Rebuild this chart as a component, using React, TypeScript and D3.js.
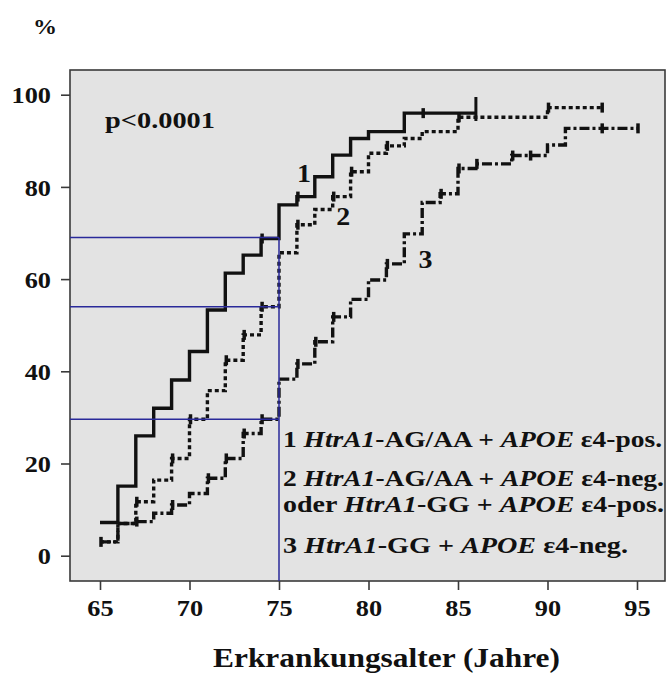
import { useEffect, useRef } from "react";
import * as d3 from "d3";

// Kaplan-Meier style steps: age where the curve jumps, and the new value (%)
const ages1 = [65, 66, 67, 68, 69, 70, 71, 72, 73, 74, 75, 76, 77, 78, 79, 80, 82];
const vals1 = [7.2, 15.1, 26.0, 32.0, 38.1, 44.3, 53.3, 61.3, 65.2, 68.8, 76.1, 77.9, 82.2, 86.9, 90.5, 92.0, 96.0];
const end1 = 86;
const censor1 = [74, 76, 83];

const ages2 = [65, 66, 67, 68, 69, 70, 71, 72, 73, 74, 75, 76, 77, 78, 79, 80, 81, 82, 83, 85, 90];
const vals2 = [3.0, 7.0, 11.7, 16.4, 21.1, 29.6, 35.8, 42.4, 47.9, 54.0, 65.7, 71.8, 75.1, 77.9, 83.3, 87.3, 88.9, 90.5, 92.0, 95.1, 97.2];
const end2 = 93;
const censor2 = [67, 69, 70, 72, 73, 74, 76, 78, 79, 81, 85, 90, 93];

const ages3 = [65, 66, 67, 68, 69, 70, 71, 72, 73, 74, 75, 76, 77, 78, 79, 80, 81, 82, 83, 84, 85, 86, 88, 90, 91];
const vals3 = [3.0, 7.0, 7.4, 9.2, 11.0, 13.5, 16.8, 21.1, 26.5, 29.6, 38.3, 41.6, 46.4, 51.8, 55.6, 59.8, 63.3, 69.8, 76.6, 78.5, 84.0, 85.0, 86.8, 89.1, 92.7];
const end3 = 95;
const censor3 = [65, 67, 69, 71, 72, 73, 74, 76, 77, 78, 81, 84, 85, 86, 88, 89, 93, 95];

// reference lines at age 75
const refAge = 75;
const refVals = [69.0, 54.0, 29.6];

const xTicks = [65, 70, 75, 80, 85, 90, 95];
const yTicks = [0, 20, 40, 60, 80, 100];

const curveLabels = ["1", "2", "3"];
const labelPos = [[76, 81.1], [78.2, 71.7], [82.8, 62.3]];

const legendLines = [
  [["1 ", false], ["HtrA1", true], ["-AG/AA + ", false], ["APOE", true], [" ε4-pos.", false]],
  [["2 ", false], ["HtrA1", true], ["-AG/AA + ", false], ["APOE", true], [" ε4-neg.", false]],
  [["oder ", false], ["HtrA1", true], ["-GG + ", false], ["APOE", true], [" ε4-pos.", false]],
  [["3 ", false], ["HtrA1", true], ["-GG + ", false], ["APOE", true], [" ε4-neg.", false]],
];

const FONT = "'Liberation Serif', 'Times New Roman', serif";
const SX = 1.12;

function valueAt(ages, vals, a) {
  let v = vals[0];
  for (let i = 0; i < ages.length; i++) if (ages[i] <= a) v = vals[i];
  return v;
}

function App() {
  const ref = useRef(null);

  useEffect(() => {
    const svg = d3.select(ref.current);
    svg.selectAll("*").remove();

    const plot = { left: 70, top: 70, right: 665, bottom: 581 };
    const x = d3.scaleLinear().domain([65, 95]).range([100, 637]);
    const y = d3.scaleLinear().domain([0, 100]).range([555.7, 94.7]);

    svg.append("rect")
      .attr("x", plot.left).attr("y", plot.top)
      .attr("width", plot.right - plot.left).attr("height", plot.bottom - plot.top)
      .attr("fill", "#e3e3e3").attr("stroke", "#3a3a3a").attr("stroke-width", 1.6);

    // axes
    const yAxis = svg.append("g")
      .attr("transform", `translate(${plot.left},0)`)
      .call(d3.axisLeft(y).tickValues(yTicks).tickSize(9).tickSizeOuter(0).tickPadding(8));
    const xAxis = svg.append("g")
      .attr("transform", `translate(0,${plot.bottom})`)
      .call(d3.axisBottom(x).tickValues(xTicks).tickSize(9).tickSizeOuter(0).tickPadding(9));
    [yAxis, xAxis].forEach((g) => {
      g.select(".domain").remove();
      g.selectAll("line").attr("stroke", "#3a3a3a").attr("stroke-width", 1.6);
      g.selectAll("text")
        .attr("font-family", FONT).attr("font-weight", "bold")
        .attr("font-size", 23.5).attr("fill", "#111");
    });
    yAxis.selectAll("text").attr("transform", `scale(${SX},1)`).attr("dy", "0.35em");
    xAxis.selectAll("text").attr("transform", `scale(${SX},1)`);

    const line = d3.line().x((d) => x(d[0])).y((d) => y(d[1])).curve(d3.curveStepAfter);

    const series = [
      { ages: ages1, vals: vals1, end: end1, censor: censor1, dash: null },
      { ages: ages2, vals: vals2, end: end2, censor: censor2, dash: "4,3" },
      { ages: ages3, vals: vals3, end: end3, censor: censor3, dash: "10,3,3,3" },
    ];

    series.forEach((s) => {
      const pts = s.ages.map((a, i) => [a, s.vals[i]]);
      pts.push([s.end, s.vals[s.vals.length - 1]]);
      svg.append("path")
        .attr("d", line(pts))
        .attr("fill", "none")
        .attr("stroke", "#111")
        .attr("stroke-width", 3.4)
        .attr("stroke-dasharray", s.dash);
      svg.selectAll(null)
        .data(s.censor)
        .join("line")
        .attr("x1", (a) => x(a) + 1).attr("x2", (a) => x(a) + 1)
        .attr("y1", (a) => y(valueAt(s.ages, s.vals, a)) - 5)
        .attr("y2", (a) => y(valueAt(s.ages, s.vals, a)) + 5)
        .attr("stroke", "#111").attr("stroke-width", 3.5);
    });

    // tall end mark of curve 1
    svg.append("line")
      .attr("x1", x(end1)).attr("x2", x(end1))
      .attr("y1", y(99.5)).attr("y2", y(94.3))
      .attr("stroke", "#111").attr("stroke-width", 3);

    // blue reference lines
    refVals.forEach((v) => {
      svg.append("line")
        .attr("x1", plot.left).attr("x2", x(refAge))
        .attr("y1", y(v)).attr("y2", y(v))
        .attr("stroke", "#2a2a9a").attr("stroke-width", 1.5);
    });
    svg.append("line")
      .attr("x1", x(refAge)).attr("x2", x(refAge))
      .attr("y1", plot.bottom).attr("y2", y(d3.max(refVals)))
      .attr("stroke", "#2a2a9a").attr("stroke-width", 1.5);

    // curve numbers
    curveLabels.forEach((t, i) => {
      svg.append("text")
        .attr("transform", `translate(${x(labelPos[i][0])},${y(labelPos[i][1])}) scale(${SX},1)`)
        .attr("font-family", FONT).attr("font-weight", "bold").attr("font-size", 25)
        .attr("fill", "#111").text(t);
    });

    const txt = (tx, ty, size, len) => {
      const t = svg.append("text")
        .attr("x", tx).attr("y", ty)
        .attr("font-family", FONT).attr("font-weight", "bold").attr("font-size", size).attr("fill", "#111");
      if (len) t.attr("textLength", len).attr("lengthAdjust", "spacingAndGlyphs");
      return t;
    };

    txt(33, 34, 22, 24).text("%");
    txt(105, 128, 23, 110).text("p<0.0001");
    txt(213, 667, 27.5, 347).text("Erkrankungsalter (Jahre)");

    // legend
    const legendY = [446.7, 486, 511.7, 553.3];
    const legendW = [379, 381, 381, 345];
    legendLines.forEach((parts, i) => {
      const t = txt(283, legendY[i], 23, legendW[i]);
      parts.forEach(([s, it]) => {
        t.append("tspan").attr("font-style", it ? "italic" : "normal").text(s);
      });
    });
  }, []);

  return (
    <svg ref={ref} width={667} height={673}
      style={{ position: "absolute", left: 0, top: 0, background: "#fff" }} />
  );
}

export default App;
